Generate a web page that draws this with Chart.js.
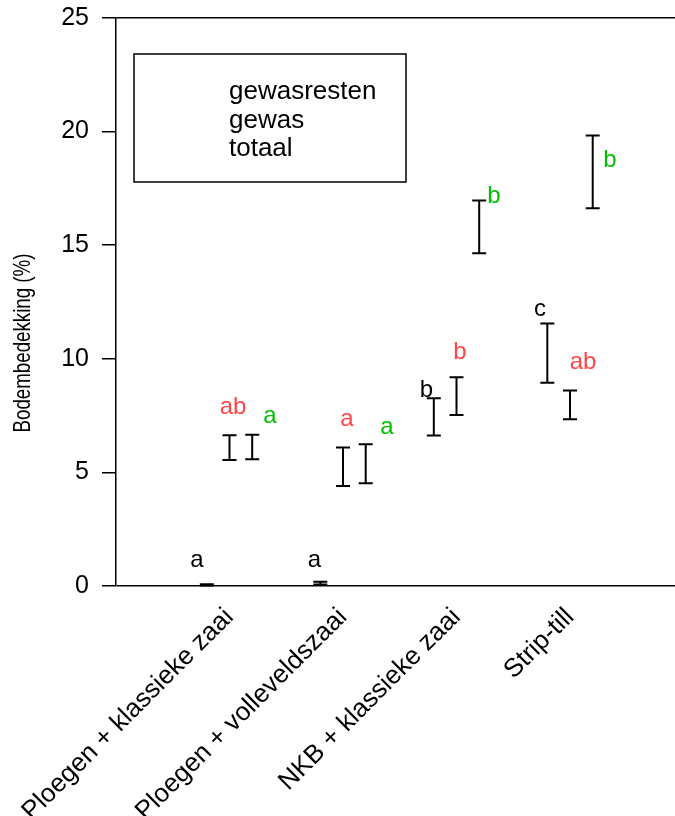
<!DOCTYPE html>
<html>
<head>
<meta charset="utf-8">
<script src="https://cdn.jsdelivr.net/npm/chart.js@4.4.0/dist/chart.umd.min.js"></script>
<style>
    html, body { margin: 0; padding: 0; background: #fff; }
    #wrap { width: 675px; height: 816px; position: relative; }
</style>
</head>
<body>
<div id="wrap"><canvas id="chart"></canvas></div>
<script>
let categories = ['Ploegen + klassieke zaai', 'Ploegen + volleveldszaai', 'NKB + klassieke zaai', 'Strip-till'];
let seriesNames = ['gewasresten', 'gewas', 'totaal'];
let yTitle = 'Bodembedekking (%)';
let yTicks = [0, 5, 10, 15, 20, 25];

// means and standard errors
let gewasrestenMean = [0.05, 0.13, 7.44, 10.25];
let gewasrestenErr = [0.03, 0.06, 0.82, 1.30];
let gewasMean = [6.09, 5.25, 8.36, 7.97];
let gewasErr = [0.54, 0.85, 0.83, 0.63];
let totaalMean = [6.12, 5.38, 15.81, 18.23];
let totaalErr = [0.54, 0.86, 1.16, 1.60];

// significance letters and where they sit (x in category units, y in %)
let gewasrestenLetters = ['a', 'a', 'b', 'c'];
let gewasrestenLetterX = [0.714, 1.749, 2.734, 3.736];
let gewasrestenLetterY = [1.14, 1.14, 8.63, 12.19];
let gewasLetters = ['ab', 'a', 'b', 'ab'];
let gewasLetterX = [1.031, 2.035, 3.031, 4.115];
let gewasLetterY = [7.88, 7.35, 10.3, 9.86];
let totaalLetters = ['a', 'a', 'b', 'b'];
let totaalLetterX = [1.357, 2.388, 3.330, 4.352];
let totaalLetterY = [7.48, 7.0, 17.17, 18.75];

Chart.defaults.font.family = '"Liberation Sans", Arial, sans-serif';
Chart.defaults.color = '#000';

function makeSeries(label, means, errs, shift, letters, lx, ly, letterColor) {
    return {
        label: label,
        data: means.map((m, i) => ({x: i + 1 + shift, y: m})),
        errors: errs,
        letters: letters.map((t, i) => ({text: t, x: lx[i], y: ly[i]})),
        letterColor: letterColor,
        pointRadius: 0,
        pointHoverRadius: 0,
        showLine: false,
        backgroundColor: 'transparent',
        borderColor: 'transparent'
    };
}

let errorBars = {
    id: 'errorBars',
    afterDatasetsDraw(chart) {
        let ctx = chart.ctx, xs = chart.scales.x, ys = chart.scales.y;
        ctx.save();
        ctx.strokeStyle = '#000';
        ctx.lineWidth = 2;
        chart.data.datasets.forEach(ds => {
            ds.data.forEach((p, i) => {
                let x = xs.getPixelForValue(p.x);
                let top = ys.getPixelForValue(p.y + ds.errors[i]);
                let bot = ys.getPixelForValue(Math.max(0, p.y - ds.errors[i]));
                ctx.beginPath();
                ctx.moveTo(x, top); ctx.lineTo(x, bot);
                ctx.moveTo(x - 7, top); ctx.lineTo(x + 7, top);
                ctx.moveTo(x - 7, bot); ctx.lineTo(x + 7, bot);
                ctx.stroke();
            });
            ctx.fillStyle = ds.letterColor;
            ctx.font = '24px "Liberation Sans", Arial, sans-serif';
            ctx.textAlign = 'center';
            ctx.textBaseline = 'middle';
            ds.letters.forEach(l => {
                ctx.fillText(l.text, xs.getPixelForValue(l.x), ys.getPixelForValue(l.y));
            });
        });
        ctx.restore();
    }
};

let frameExtras = {
    id: 'frameExtras',
    afterDraw(chart) {
        let ctx = chart.ctx, a = chart.chartArea;
        ctx.save();
        // y axis title, slightly condensed like the original
        ctx.translate(23, (a.top + a.bottom) / 2 + 41);
        ctx.rotate(-Math.PI / 2);
        ctx.scale(0.78, 1);
        ctx.font = '24px "Liberation Sans", Arial, sans-serif';
        ctx.fillStyle = '#000';
        ctx.textAlign = 'center';
        ctx.textBaseline = 'middle';
        ctx.fillText(yTitle, 0, 0);
        ctx.restore();

        // legend box
        ctx.save();
        let bx = a.left + 18, by = a.top + 36;
        ctx.strokeStyle = '#000';
        ctx.lineWidth = 1.5;
        ctx.strokeRect(bx, by, 272, 128);
        ctx.font = '26px "Liberation Sans", Arial, sans-serif';
        ctx.fillStyle = '#000';
        ctx.textAlign = 'left';
        ctx.textBaseline = 'alphabetic';
        chart.data.datasets.forEach((ds, i) => {
            ctx.fillText(ds.label, bx + 95, by + 45 + i * 28.5);
        });
        ctx.restore();
    }
};

new Chart(document.getElementById('chart'), {
    type: 'scatter',
    data: {
        datasets: [
            makeSeries(seriesNames[0], gewasrestenMean, gewasrestenErr, -0.2, gewasrestenLetters, gewasrestenLetterX, gewasrestenLetterY, '#000000'),
            makeSeries(seriesNames[1], gewasMean, gewasErr, 0, gewasLetters, gewasLetterX, gewasLetterY, '#ff4646'),
            makeSeries(seriesNames[2], totaalMean, totaalErr, 0.2, totaalLetters, totaalLetterX, totaalLetterY, '#00c000')
        ]
    },
    options: {
        responsive: true,
        maintainAspectRatio: false,
        animation: false,
        devicePixelRatio: 1,
        layout: {padding: {top: 18, right: 0, left: 0, bottom: 0}},
        plugins: {
            legend: {display: false},
            tooltip: {enabled: false}
        },
        scales: {
            x: {
                type: 'linear',
                min: 0,
                max: 4.925,
                afterBuildTicks: axis => { axis.ticks = categories.map((c, i) => ({value: i + 1})); },
                afterFit: axis => {
                    axis.height = 230;
                    axis.paddingLeft = 0;
                    axis.paddingRight = 0;
                },
                grid: {display: false},
                border: {display: false},
                ticks: {
                    autoSkip: false,
                    minRotation: 45,
                    maxRotation: 45,
                    padding: 8,
                    font: {size: 26},
                    color: '#000',
                    callback: v => categories[Math.round(v) - 1]
                }
            },
            y: {
                min: 0,
                max: 25,
                afterBuildTicks: axis => { axis.ticks = yTicks.map(v => ({value: v})); },
                afterFit: axis => {
                    axis.width = 116;
                    axis.paddingTop = 0;
                    axis.paddingBottom = 0;
                },
                border: {display: true, color: '#000', width: 1.5},
                grid: {
                    color: c => (c.tick && (c.tick.value === 0 || c.tick.value === 25)) ? '#000' : 'rgba(0,0,0,0)',
                    lineWidth: 1.5,
                    drawTicks: true,
                    tickLength: 14,
                    tickColor: '#000',
                    tickWidth: 1.5
                },
                ticks: {
                    padding: 13,
                    font: {size: 25},
                    color: '#000'
                }
            }
        }
    },
    plugins: [errorBars, frameExtras]
});
</script>
</body>
</html>
